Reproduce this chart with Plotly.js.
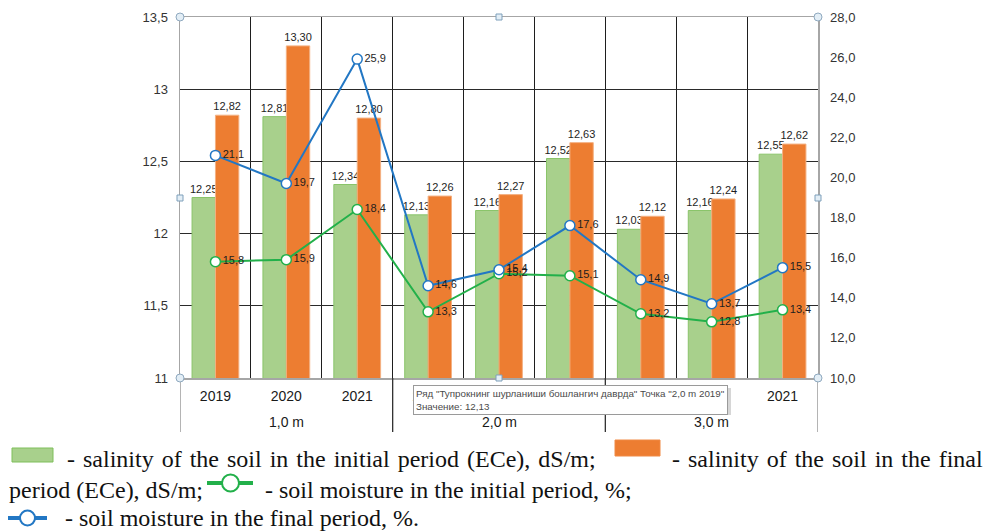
<!DOCTYPE html>
<html><head><meta charset="utf-8">
<script src="https://cdn.plot.ly/plotly-3.0.1.min.js"></script>
<style>body{margin:0;background:#fff}#chart{width:1000px;height:532px}</style>
</head><body><div id="chart"></div>
<script>
const depths = ["1,0 m","1,0 m","1,0 m","2,0 m","2,0 m","2,0 m","3,0 m","3,0 m","3,0 m"];
const years = ["2019","2020","2021","2019","2020","2021","2019","2020","2021"];
const depthGroups = ["1,0 m","2,0 m","3,0 m"];
const salinityInitial = [12.25,12.81,12.34,12.13,12.16,12.52,12.03,12.16,12.55];
const salinityFinal = [12.82,13.30,12.80,12.26,12.27,12.63,12.12,12.24,12.62];
const moistureInitial = [15.8,15.9,18.4,13.3,15.2,15.1,13.2,12.8,13.4];
const moistureFinal = [21.1,19.7,25.9,14.6,15.4,17.6,14.9,13.7,15.5];

const fmt = (v,d) => v.toFixed(d).replace('.', ',');
const cats = depths.map((d,i) => d + ' ' + years[i]);
const L = 180, R = 818, T = 17, B = 378;
const px = x => (x - L) / (R - L);
const py = y => (B - y) / (B - T);

const labelFont = {family:'Liberation Sans, Arial, sans-serif', size:11, color:'#1e1e1e'};

const traces = [
  {type:'bar', x:cats, y:salinityInitial, name:'initial salinity',
   marker:{color:'#a8d08c', line:{color:'#8ac46a', width:1}},
   text:salinityInitial.map(v=>fmt(v,2)), textposition:'outside', textfont:labelFont,
   constraintext:'none', cliponaxis:false, hoverinfo:'skip'},
  {type:'bar', x:cats, y:salinityFinal, name:'final salinity',
   marker:{color:'#ed7d31', line:{color:'#f4b183', width:1}},
   text:salinityFinal.map(v=>fmt(v,2)), textposition:'outside', textfont:labelFont,
   constraintext:'none', cliponaxis:false, hoverinfo:'skip'},
  {type:'scatter', mode:'lines+markers+text', x:cats, y:moistureInitial, yaxis:'y2', name:'initial moisture',
   line:{color:'#22b04a', width:2},
   marker:{symbol:'circle', size:10, color:'#ffffff', line:{color:'#22b04a', width:1.5}},
   text:moistureInitial.map(v=>fmt(v,1)), textposition:'middle right', textfont:labelFont,
   cliponaxis:false, hoverinfo:'skip'},
  {type:'scatter', mode:'lines+markers+text', x:cats, y:moistureFinal, yaxis:'y2', name:'final moisture',
   line:{color:'#2277c4', width:2},
   marker:{symbol:'circle', size:10, color:'#ffffff', line:{color:'#2277c4', width:1.5}},
   text:moistureFinal.map(v=>fmt(v,1)), textposition:'middle right', textfont:labelFont,
   cliponaxis:false, hoverinfo:'skip'}
];

const serif = {family:'Liberation Serif, Times New Roman, serif', size:24, color:'#111'};
const tipFont = {family:'Liberation Sans, Arial, sans-serif', size:9.8, color:'#4a4a4a'};
const axisFont = {family:'Liberation Sans, Arial, sans-serif', size:14, color:'#1a1a1a'};

function handleCircle(x,y){return {type:'circle', xref:'paper', yref:'paper', layer:'above',
  x0:px(x-4), x1:px(x+4), y0:py(y+4), y1:py(y-4), fillcolor:'#e3eef6', line:{color:'#8fa9bf', width:1}};}
function handleSquare(x,y){return {type:'rect', xref:'paper', yref:'paper', layer:'above',
  x0:px(x-3), x1:px(x+3), y0:py(y+3), y1:py(y-3), fillcolor:'#e3eef6', line:{color:'#7fa0bb', width:1}};}

const shapes = [];
[-0.5, 2.5, 5.5, 8.5].forEach((p,i) => shapes.push({type:'line', xref:'x', yref:'paper',
  x0:p, x1:p, y0:0, y1:py(432), line:{color:(i===0||i===3)?'#8c8c8c':'#303030', width:1.3}}));
shapes.push(
  handleCircle(180,17), handleCircle(818,17), handleCircle(180,378), handleCircle(818,378),
  handleSquare(499,17), handleSquare(180,198), handleSquare(818,198), handleSquare(499,378),
  {type:'rect', xref:'paper', yref:'paper', layer:'above', x0:px(416), x1:px(731), y0:py(415), y1:py(388),
   fillcolor:'rgba(0,0,0,0.16)', line:{width:0}},
  {type:'rect', xref:'paper', yref:'paper', x0:px(12), x1:px(53), y0:py(462), y1:py(448),
   fillcolor:'#a8d08c', line:{color:'#7fbf5a', width:1}},
  {type:'rect', xref:'paper', yref:'paper', x0:px(615), x1:px(660), y0:py(456), y1:py(440),
   fillcolor:'#ed7d31', line:{color:'#f08a45', width:1}},
  {type:'line', xref:'paper', yref:'paper', x0:px(207), x1:px(253), y0:py(483), y1:py(483),
   line:{color:'#22b04a', width:4}},
  {type:'circle', xref:'paper', yref:'paper', x0:px(222), x1:px(239), y0:py(491.5), y1:py(474.5),
   fillcolor:'#ffffff', line:{color:'#22b04a', width:2}},
  {type:'line', xref:'paper', yref:'paper', x0:px(8), x1:px(47), y0:py(518), y1:py(518),
   line:{color:'#2277c4', width:4}},
  {type:'circle', xref:'paper', yref:'paper', x0:px(20), x1:px(35), y0:py(525.5), y1:py(510.5),
   fillcolor:'#ffffff', line:{color:'#2277c4', width:2}}
);

const annotations = depthGroups.map((g,i) => ({xref:'x', yref:'paper', x:cats[i*3+1], y:py(422),
  xanchor:'center', yanchor:'middle', showarrow:false, text:g, font:axisFont}));
const spread = s => s.split(' ').join(' \u200a');
annotations.push(
  {xref:'paper', yref:'paper', x:px(413), y:py(385), xanchor:'left', yanchor:'top', align:'left',
   showarrow:false, bgcolor:'#ffffff', bordercolor:'#9a9a9a', borderwidth:1, borderpad:2,
   text:'Ряд "Тупрокнинг шурланиши бошлангич даврда" Точка "2,0 m 2019"<br>Значение: 12,13', font:tipFont},
  {xref:'paper', yref:'paper', x:px(65), y:py(459), xanchor:'left', yanchor:'middle', showarrow:false,
   text:spread('- salinity of the soil in the initial period (ECe), dS/m;'), font:serif},
  {xref:'paper', yref:'paper', x:px(670), y:py(459), xanchor:'left', yanchor:'middle', showarrow:false,
   text:spread('- salinity of the soil in the final'), font:serif},
  {xref:'paper', yref:'paper', x:px(7), y:py(490), xanchor:'left', yanchor:'middle', showarrow:false,
   text:'period (ECe), dS/m;', font:serif},
  {xref:'paper', yref:'paper', x:px(263), y:py(490), xanchor:'left', yanchor:'middle', showarrow:false,
   text:'- soil moisture in the initial period, %;', font:serif},
  {xref:'paper', yref:'paper', x:px(63), y:py(518), xanchor:'left', yanchor:'middle', showarrow:false,
   text:'- soil moisture in the final period, %.', font:serif}
);

const layout = {
  width:1000, height:532, margin:{l:L, r:1000-R, t:T, b:532-B},
  paper_bgcolor:'#ffffff', plot_bgcolor:'#ffffff', showlegend:false,
  separators:', ', barmode:'group', bargap:0.34, bargroupgap:0,
  font:{family:'Liberation Sans, Arial, sans-serif', color:'#222'},
  xaxis:{type:'category', tickvals:cats, ticktext:years, tickson:'boundaries', showgrid:true,
    gridcolor:'#1e1e1e', gridwidth:1.2, range:[-0.5, 8.5],
    showline:true, linecolor:'#a6a6a6', linewidth:1.5, mirror:true,
    tickfont:axisFont, ticks:'', ticklabelstandoff:5},
  yaxis:{range:[11,13.5], dtick:0.5, showgrid:true, gridcolor:'#2a2a2a', gridwidth:1,
    showline:true, linecolor:'#a6a6a6', linewidth:1.5, zeroline:false, ticks:'',
    ticklabelstandoff:8, tickfont:{size:13, color:'#333'}},
  yaxis2:{range:[10,28], dtick:2, tickformat:'.1f', overlaying:'y', side:'right', showgrid:false,
    showline:true, linecolor:'#a6a6a6', linewidth:1.5, zeroline:false, ticks:'',
    ticklabelstandoff:8, tickfont:{size:13, color:'#333'}},
  shapes:shapes, annotations:annotations
};

Plotly.newPlot('chart', traces, layout, {displayModeBar:false, staticPlot:true});
</script></body></html>
